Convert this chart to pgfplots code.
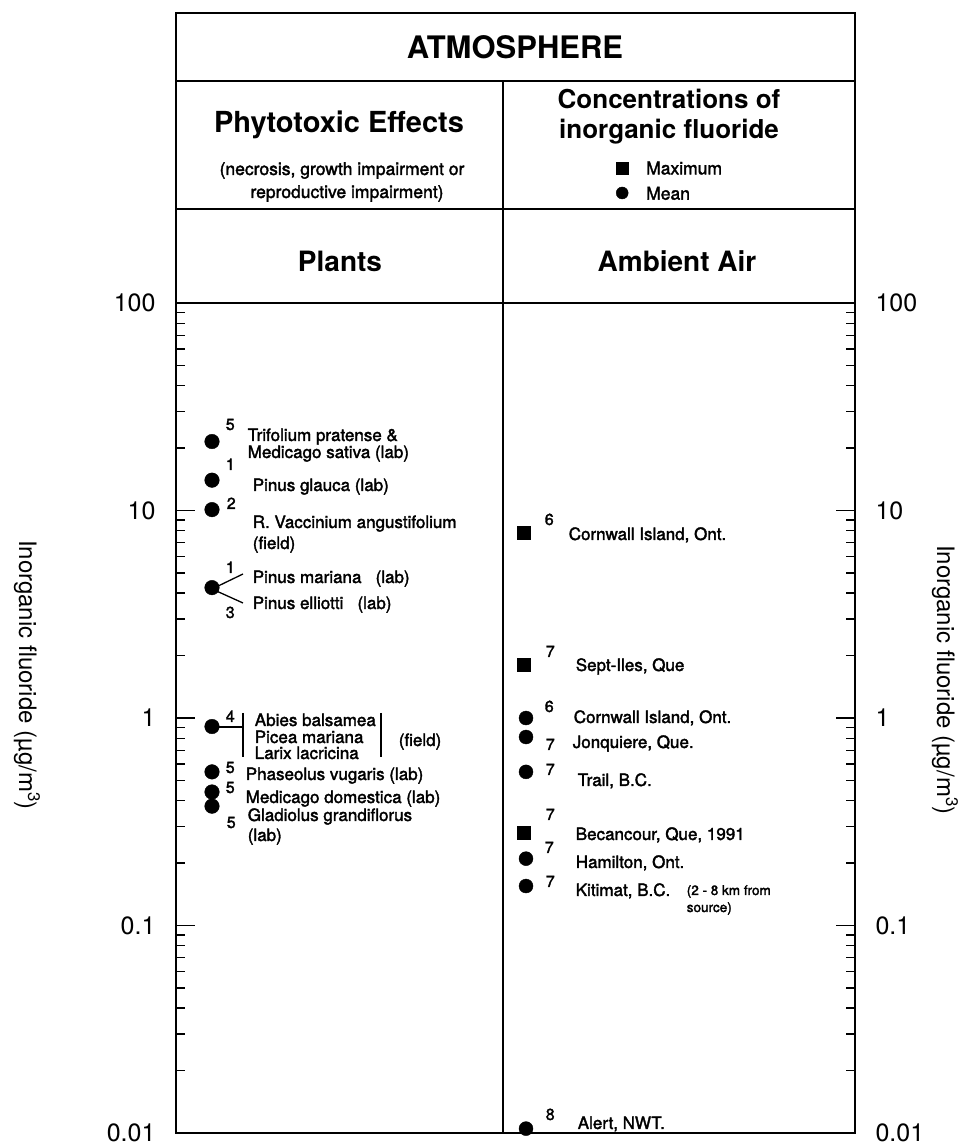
\documentclass[border=0pt]{standalone}
\usepackage{pgfplots}
\pgfplotsset{compat=1.18}
\usepackage{fontspec}
\setmainfont{TeX Gyre Heros}
\newfontfamily\labfont{TeX Gyre Heros}[FakeBold=2]
\newcommand{\fs}[1]{\fontsize{#1bp}{#1bp}\selectfont}
\begin{document}
\begin{tikzpicture}
\begin{axis}[
 scale only axis, width=679bp, height=830bp,
 xmin=176, xmax=855, ymode=log, ymin=0.01, ymax=100,
 xtick=\empty,
 ytick={0.01,0.1,1,10,100},
 yticklabels={0.01,0.1,1,10,100},
 minor ytick={0.02,0.03,0.04,0.05,0.06,0.07,0.08,0.09,0.2,0.3,0.4,0.5,0.6,0.7,0.8,0.9,2,3,4,5,6,7,8,9,20,30,40,50,60,70,80,90},
 ytick pos=both, yticklabel pos=left,
 tick align=inside,
 major tick length=19bp, minor tick length=9bp,
 every tick/.style={black, line width=1.2bp},
 axis line style={black, line width=1.6bp},
 yticklabel style={font=\fs{25}, xshift=-17bp},
 ylabel={Inorganic fluoride (µg/m\textsuperscript{3})},
 ylabel style={font=\fs{24}, at={(axis description cs:-0.2194,0.5518)}, anchor=center, rotate=180},
 clip=false,
 legend style={at={(axis description cs:0.648,1.1706)}, anchor=north west, draw=none, fill=none,
   font=\labfont\fs{17.5}, inner sep=0pt, nodes={inner sep=0pt}, row sep=11bp},
 legend cell align=left,
 legend image code/.code={%
   \path[draw=none, fill=none] (0bp,-5bp) rectangle (30bp,7bp);
   \draw[mark repeat=2,mark phase=2,#1,mark size=6bp] plot coordinates {(0bp,1bp) (6bp,1bp) (30bp,1bp)};},
]
% Plants: phytotoxic effect levels
\addplot[only marks, mark=*, mark size=7.3bp, black, forget plot] coordinates {
 (212,21.5) (212,14) (212,10.1) (212,4.25) (212,0.91) (212,0.55) (212,0.44) (212,0.376)};
% Ambient air maxima
\addplot[only marks, mark=square*, mark size=6.5bp, black] coordinates {
 (524,7.8) (524,1.8) (524,0.28)};
\addlegendentry{Maximum}
% Ambient air means
\addplot[only marks, mark=*, mark size=7bp, black] coordinates {
 (526,1.0) (526,0.81) (526,0.55) (526,0.21) (526,0.155) (526,0.0105)};
\addlegendentry{Mean}
\end{axis}
\begin{axis}[
 scale only axis, width=679bp, height=830bp,
 xmin=176, xmax=855, ymode=log, ymin=0.01, ymax=100,
 hide x axis, axis y line*=right,
 y axis line style={draw=none},
 ytick={0.01,0.1,1,10,100},
 yticklabels={0.01,0.1,1,10,100},
 minor ytick={},
 major tick length=0pt, minor tick length=0pt,
 yticklabel style={font=\fs{25}, xshift=17bp},
 ylabel={Inorganic fluoride (µg/m\textsuperscript{3})},
 ylabel style={font=\fs{24}, at={(axis description cs:1.1325,0.5458)}, anchor=center, rotate=180},
]
\end{axis}
\begin{scope}[x=1bp, y=-1bp, xshift=-176bp, yshift=1133bp, line width=1.6bp,
  lab/.style={anchor=base west, font=\labfont\fs{17}, inner sep=0pt},
  sm/.style={anchor=base west, font=\labfont\fs{13.5}, inner sep=0pt},
  num/.style={anchor=base west, font=\labfont\fs{16}, inner sep=0pt}]
% header frame
\draw (176,13) rectangle (855,303);
\draw (176,81) -- (855,81);
\draw (176,209) -- (855,209);
\draw (503,81) -- (503,1133);
% header text
\node[anchor=base, font=\bfseries\fs{31}, inner sep=0pt] at (515,59) {ATMOSPHERE};
\node[anchor=base, font=\bfseries\fs{29}, inner sep=0pt] at (339,133) {Phytotoxic Effects};
\node[anchor=base, font=\labfont\fs{17.5}, inner sep=0pt] at (342,175) {(necrosis, growth impairment or};
\node[anchor=base, font=\labfont\fs{17.5}, inner sep=0pt] at (347,198) {reproductive impairment)};
\node[anchor=base, font=\bfseries\fs{26}, inner sep=0pt] at (669,109) {Concentrations of};
\node[anchor=base, font=\bfseries\fs{26}, inner sep=0pt] at (669,139) {inorganic fluoride};
\node[anchor=base, font=\bfseries\fs{28}, inner sep=0pt] at (340,272) {Plants};
\node[anchor=base, font=\bfseries\fs{28}, inner sep=0pt] at (677,272) {Ambient Air};
% plant annotations
\node[num] at (225,430) {5};
\node[lab] at (247,441) {Trifolium pratense \&};
\node[lab] at (247,458) {Medicago sativa (lab)};
\node[num] at (225,470) {1};
\node[lab] at (252,491) {Pinus glauca (lab)};
\node[num] at (226,509) {2};
\node[lab] at (252,528) {R. Vaccinium angustifolium};
\node[lab] at (252,549) {(field)};
\draw[line width=1.3bp] (212,589) -- (243,574);
\draw[line width=1.3bp] (212,589) -- (243,603);
\node[num] at (225,573) {1};
\node[num] at (225,618) {3};
\node[lab] at (252,583) {Pinus mariana\ \ \ (lab)};
\node[lab] at (252,609) {Pinus elliotti\ \ \ (lab)};
\draw[line width=1.3bp] (212,727) -- (243,727);
\draw[line width=1.3bp] (243,713) -- (243,757);
\draw[line width=1.3bp] (381,713) -- (381,757);
\node[num] at (225,722) {4};
\node[lab] at (254,726) {Abies balsamea};
\node[lab] at (254,743) {Picea mariana};
\node[lab] at (254,759) {Larix lacricina};
\node[lab] at (398,746) {(field)};
\node[num] at (225,773) {5};
\node[lab] at (245,780) {Phaseolus vugaris (lab)};
\node[num] at (225,793) {5};
\node[lab] at (245,803) {Medicago domestica (lab)};
\node[num] at (226,828) {5};
\node[lab] at (247,821) {Gladiolus grandiflorus};
\node[lab] at (247,841) {(lab)};
% ambient annotations
\node[num] at (544,525) {6};
\node[lab] at (568,540) {Cornwall Island, Ont.};
\node[num] at (545,657) {7};
\node[lab] at (575,671) {Sept-Iles, Que};
\node[num] at (544,712) {6};
\node[lab] at (573,723) {Cornwall Island, Ont.};
\node[num] at (545,750) {7};
\node[lab] at (572,748) {Jonquiere, Que.};
\node[num] at (545,775) {7};
\node[lab] at (577,786) {Trail, B.C.};
\node[num] at (545,820) {7};
\node[lab] at (575,840) {Becancour, Que, 1991};
\node[num] at (544,853) {7};
\node[lab] at (575,868) {Hamilton, Ont.};
\node[num] at (545,887) {7};
\node[lab] at (575,896) {Kitimat, B.C.};
\node[sm] at (686,895) {(2 - 8 km from};
\node[sm] at (686,912) {source)};
\node[num] at (545,1120) {8};
\node[lab] at (577,1129) {Alert, NWT.};
\end{scope}
\pgfresetboundingbox
\begin{scope}[x=1bp, y=-1bp, xshift=-176bp, yshift=1133bp]
\useasboundingbox (0,0) rectangle (966,1147);
\end{scope}
\end{tikzpicture}
\end{document}
